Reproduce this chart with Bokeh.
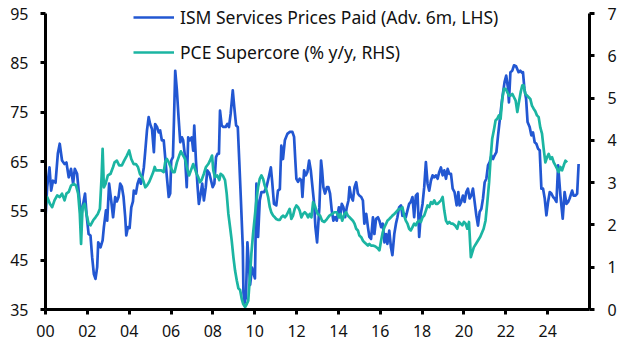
from bokeh.plotting import figure
from bokeh.models import Range1d, LinearAxis, FixedTicker, Legend, LegendItem
from bokeh.embed import file_html
from bokeh.resources import INLINE

# ---------------- data ----------------
ism_year = [2000.00, 2000.08, 2000.19, 2000.27, 2000.36, 2000.48, 2000.59, 2000.68, 2000.79, 2000.91,
            2001.00, 2001.11, 2001.22, 2001.32, 2001.40, 2001.51, 2001.59, 2001.70, 2001.80, 2001.89,
            2001.96, 2002.06, 2002.15, 2002.23, 2002.31, 2002.39, 2002.47, 2002.52, 2002.63, 2002.73,
            2002.79, 2002.89, 2002.95, 2003.04, 2003.14, 2003.23, 2003.33, 2003.41, 2003.49, 2003.57,
            2003.65, 2003.73, 2003.81, 2003.86, 2003.94, 2004.02, 2004.10, 2004.18, 2004.22, 2004.32,
            2004.40, 2004.48, 2004.56, 2004.64, 2004.70, 2004.77, 2004.85, 2004.93, 2005.00, 2005.09,
            2005.18, 2005.24, 2005.33, 2005.41, 2005.48, 2005.56, 2005.65, 2005.72, 2005.80, 2005.89,
            2005.96, 2006.01, 2006.09, 2006.14, 2006.20, 2006.28, 2006.36, 2006.44, 2006.52, 2006.58,
            2006.67, 2006.75, 2006.82, 2006.90, 2006.99, 2007.06, 2007.11, 2007.19, 2007.27, 2007.33,
            2007.42, 2007.49, 2007.57, 2007.66, 2007.73, 2007.83, 2007.91, 2007.99, 2008.07, 2008.15,
            2008.23, 2008.29, 2008.34, 2008.42, 2008.50, 2008.61, 2008.69, 2008.77, 2008.85, 2008.95,
            2009.02, 2009.11, 2009.19, 2009.26, 2009.34, 2009.43, 2009.46, 2009.51, 2009.58, 2009.65,
            2009.78, 2009.87, 2010.01, 2010.08, 2010.16, 2010.24, 2010.32, 2010.45, 2010.56, 2010.67,
            2010.77, 2010.83, 2010.92, 2011.03, 2011.11, 2011.20, 2011.27, 2011.35, 2011.44, 2011.56,
            2011.67, 2011.80, 2011.88, 2011.94, 2011.99, 2012.07, 2012.15, 2012.23, 2012.28, 2012.36,
            2012.44, 2012.52, 2012.60, 2012.68, 2012.76, 2012.84, 2012.90, 2012.98, 2013.09, 2013.17,
            2013.22, 2013.28, 2013.36, 2013.45, 2013.52, 2013.60, 2013.68, 2013.76, 2013.84, 2013.92,
            2014.02, 2014.08, 2014.16, 2014.24, 2014.32, 2014.40, 2014.48, 2014.53, 2014.61, 2014.69,
            2014.77, 2014.85, 2014.93, 2015.00, 2015.09, 2015.17, 2015.24, 2015.33, 2015.41, 2015.48,
            2015.56, 2015.65, 2015.72, 2015.80, 2015.89, 2015.96, 2016.04, 2016.12, 2016.20, 2016.28,
            2016.34, 2016.43, 2016.51, 2016.58, 2016.67, 2016.75, 2016.82, 2016.90, 2016.99, 2017.06,
            2017.14, 2017.22, 2017.30, 2017.38, 2017.46, 2017.54, 2017.62, 2017.70, 2017.78, 2017.86,
            2017.94, 2018.02, 2018.10, 2018.18, 2018.26, 2018.34, 2018.42, 2018.50, 2018.58, 2018.66,
            2018.74, 2018.82, 2018.90, 2018.98, 2019.06, 2019.14, 2019.22, 2019.30, 2019.38, 2019.46,
            2019.55, 2019.65, 2019.73, 2019.79, 2019.87, 2019.95, 2020.03, 2020.11, 2020.19, 2020.27,
            2020.35, 2020.43, 2020.51, 2020.59, 2020.67, 2020.75, 2020.83, 2020.91, 2020.99, 2021.07,
            2021.15, 2021.23, 2021.31, 2021.39, 2021.46, 2021.55, 2021.63, 2021.70, 2021.79, 2021.87,
            2021.94, 2022.02, 2022.10, 2022.15, 2022.22, 2022.31, 2022.39, 2022.49, 2022.55, 2022.61,
            2022.69, 2022.78, 2022.82, 2022.89, 2022.97, 2023.04, 2023.14, 2023.22, 2023.30, 2023.38,
            2023.46, 2023.54, 2023.62, 2023.70, 2023.78, 2023.86, 2023.94, 2024.02, 2024.10, 2024.18,
            2024.26, 2024.33, 2024.42, 2024.50, 2024.61, 2024.72, 2024.81, 2024.90, 2024.98, 2025.05,
            2025.17, 2025.24, 2025.33, 2025.41, 2025.48]
ism_value = [53.7, 59.8, 63.8, 59.1, 61.1, 60.7, 66.6, 68.6, 65.2, 64.5,
             64.8, 61.8, 63.5, 60.5, 63.5, 62.5, 58.8, 53.7, 56.4, 58.5,
             54.4, 50.3, 50.0, 45.6, 42.2, 41.2, 43.6, 48.6, 47.6, 49.0,
             51.7, 55.1, 53.0, 60.5, 57.1, 53.7, 57.8, 56.9, 57.8, 60.5,
             59.9, 57.8, 53.7, 50.0, 51.7, 51.5, 55.7, 56.9, 59.1, 58.5,
             60.5, 61.5, 60.5, 62.2, 63.8, 67.2, 71.3, 74.0, 72.6, 71.6,
             66.9, 72.6, 72.0, 70.9, 71.3, 69.3, 69.3, 65.9, 61.9, 57.8,
             58.5, 65.2, 65.9, 73.3, 83.4, 79.4, 73.9, 68.9, 69.9, 69.3,
             65.9, 59.8, 69.9, 69.3, 69.9, 67.2, 72.3, 65.2, 59.8, 56.4,
             58.5, 60.5, 57.1, 59.8, 63.2, 62.6, 61.2, 59.8, 60.5, 65.9,
             66.6, 66.6, 75.3, 72.3, 72.0, 72.0, 72.6, 72.0, 74.7, 79.4,
             76.1, 72.3, 72.0, 65.2, 57.1, 47.6, 38.5, 36.3, 37.5, 48.6,
             40.0, 43.5, 41.3, 60.5, 49.7, 57.1, 58.8, 58.8, 59.8, 61.8,
             63.8, 61.1, 56.4, 56.1, 59.1, 59.4, 68.2, 65.5, 69.3, 70.6,
             71.0, 71.0, 70.0, 65.2, 61.5, 60.9, 61.5, 61.2, 57.8, 63.2,
             62.2, 62.9, 65.2, 63.2, 59.8, 56.4, 51.7, 48.6, 55.7, 65.2,
             63.2, 59.8, 58.5, 59.8, 59.8, 58.5, 55.1, 53.0, 53.7, 53.0,
             55.7, 53.7, 56.4, 55.7, 53.7, 55.7, 57.1, 59.8, 57.8, 57.1,
             59.8, 60.8, 58.5, 58.1, 57.8, 57.1, 52.4, 54.4, 51.7, 49.7,
             49.3, 53.7, 50.3, 53.4, 53.7, 53.0, 51.7, 52.4, 48.6, 50.3,
             48.3, 51.0, 47.6, 46.0, 50.3, 52.4, 53.7, 55.7, 56.1, 54.0,
             54.4, 53.7, 55.1, 56.4, 56.8, 57.8, 53.7, 58.1, 58.5, 49.7,
             54.4, 56.4, 59.8, 64.9, 60.5, 59.1, 61.1, 62.2, 61.8, 62.2,
             61.5, 62.9, 63.8, 62.2, 63.2, 61.5, 63.5, 62.5, 62.5, 59.5,
             58.8, 56.1, 58.8, 56.1, 56.8, 58.1, 56.8, 58.8, 59.5, 57.5,
             58.1, 59.5, 56.8, 54.1, 52.0, 54.8, 55.4, 57.5, 60.8, 61.5,
             64.2, 64.9, 66.2, 65.5, 66.2, 66.9, 70.3, 73.0, 76.4, 79.0,
             81.1, 82.4, 80.0, 77.0, 83.1, 83.4, 84.5, 84.3, 83.7, 83.1,
             83.4, 83.0, 83.1, 79.7, 77.7, 73.0, 72.0, 70.3, 70.9, 68.9,
             68.6, 67.6, 67.3, 59.5, 59.5, 57.5, 54.1, 56.8, 58.8, 58.5,
             57.8, 57.5, 56.8, 64.2, 58.1, 53.4, 58.8, 56.4, 56.8, 57.5,
             59.1, 58.1, 58.1, 58.5, 64.5]

pce_year = [2000.00, 2000.08, 2000.21, 2000.32, 2000.43, 2000.56, 2000.68, 2000.79, 2000.91, 2001.00,
            2001.11, 2001.22, 2001.35, 2001.46, 2001.56, 2001.64, 2001.70, 2001.77, 2001.87, 2001.96,
            2002.06, 2002.15, 2002.28, 2002.39, 2002.50, 2002.60, 2002.68, 2002.73, 2002.79, 2002.87,
            2002.98, 2003.11, 2003.23, 2003.30, 2003.41, 2003.52, 2003.65, 2003.76, 2003.89, 2004.00,
            2004.10, 2004.21, 2004.32, 2004.42, 2004.51, 2004.61, 2004.69, 2004.77, 2004.85, 2004.96,
            2005.05, 2005.15, 2005.22, 2005.28, 2005.41, 2005.53, 2005.65, 2005.72, 2005.80, 2005.89,
            2005.98, 2006.08, 2006.17, 2006.28, 2006.39, 2006.47, 2006.58, 2006.67, 2006.75, 2006.86,
            2006.95, 2007.06, 2007.14, 2007.22, 2007.30, 2007.38, 2007.46, 2007.57, 2007.67, 2007.78,
            2007.86, 2007.96, 2008.02, 2008.10, 2008.21, 2008.31, 2008.37, 2008.47, 2008.58, 2008.66,
            2008.74, 2008.82, 2008.90, 2008.98, 2009.06, 2009.14, 2009.22, 2009.30, 2009.38, 2009.45,
            2009.54, 2009.62, 2009.69, 2009.76, 2009.84, 2009.92, 2010.00, 2010.08, 2010.16, 2010.24,
            2010.32, 2010.40, 2010.48, 2010.56, 2010.64, 2010.72, 2010.79, 2010.88, 2010.96, 2011.03,
            2011.11, 2011.20, 2011.27, 2011.35, 2011.44, 2011.51, 2011.59, 2011.67, 2011.75, 2011.83,
            2011.91, 2011.99, 2012.07, 2012.15, 2012.23, 2012.31, 2012.39, 2012.47, 2012.55, 2012.63,
            2012.71, 2012.79, 2012.87, 2012.95, 2013.01, 2013.12, 2013.22, 2013.33, 2013.45, 2013.57,
            2013.70, 2013.81, 2013.92, 2014.02, 2014.10, 2014.18, 2014.29, 2014.37, 2014.45, 2014.53,
            2014.61, 2014.69, 2014.77, 2014.85, 2014.93, 2015.00, 2015.09, 2015.17, 2015.24, 2015.33,
            2015.41, 2015.48, 2015.56, 2015.65, 2015.72, 2015.80, 2015.89, 2015.96, 2016.04, 2016.12,
            2016.20, 2016.28, 2016.34, 2016.43, 2016.51, 2016.58, 2016.67, 2016.75, 2016.82, 2016.90,
            2016.99, 2017.06, 2017.14, 2017.22, 2017.30, 2017.38, 2017.46, 2017.54, 2017.62, 2017.70,
            2017.78, 2017.86, 2017.94, 2018.02, 2018.10, 2018.18, 2018.26, 2018.34, 2018.42, 2018.50,
            2018.58, 2018.66, 2018.74, 2018.82, 2018.90, 2018.98, 2019.06, 2019.14, 2019.22, 2019.30,
            2019.38, 2019.46, 2019.57, 2019.68, 2019.76, 2019.84, 2019.92, 2020.00, 2020.08, 2020.16,
            2020.24, 2020.33, 2020.47, 2020.62, 2020.78, 2020.94, 2021.03, 2021.11, 2021.20, 2021.27,
            2021.35, 2021.44, 2021.51, 2021.59, 2021.67, 2021.75, 2021.83, 2021.91, 2021.99, 2022.07,
            2022.15, 2022.23, 2022.31, 2022.39, 2022.47, 2022.55, 2022.63, 2022.71, 2022.79, 2022.85,
            2022.93, 2023.01, 2023.09, 2023.17, 2023.25, 2023.33, 2023.41, 2023.49, 2023.57, 2023.65,
            2023.73, 2023.81, 2023.89, 2023.97, 2024.05, 2024.13, 2024.21, 2024.29, 2024.37, 2024.45,
            2024.53, 2024.61, 2024.69, 2024.77, 2024.85, 2024.93]
pce_value = [2.42, 2.66, 2.50, 2.42, 2.58, 2.70, 2.66, 2.74, 2.58, 2.74,
             2.78, 2.93, 2.97, 2.93, 2.74, 2.26, 1.55, 2.42, 2.50, 2.26,
             2.03, 1.99, 2.11, 2.18, 2.26, 2.38, 3.13, 3.80, 2.89, 2.97,
             3.17, 3.21, 3.37, 3.48, 3.52, 3.41, 3.41, 3.52, 3.64, 3.76,
             3.56, 3.44, 3.44, 3.37, 3.21, 3.13, 3.02, 2.89, 2.93, 3.02,
             3.13, 3.25, 3.37, 3.29, 3.29, 3.29, 3.25, 3.48, 3.56, 3.48,
             3.37, 3.25, 3.25, 3.48, 3.64, 3.74, 3.64, 3.56, 3.37, 3.17,
             3.29, 3.44, 3.33, 3.21, 3.13, 3.01, 3.06, 3.21, 3.37, 3.44,
             3.52, 3.64, 3.29, 3.13, 3.17, 3.06, 3.21, 3.17, 3.06, 2.74,
             2.26, 1.95, 1.63, 1.24, 0.92, 0.69, 0.50, 0.46, 0.25, 0.13,
             0.06, 0.13, 0.21, 0.70, 1.32, 1.79, 2.18, 2.58, 2.89, 3.09,
             3.17, 3.09, 2.93, 2.82, 2.66, 2.42, 2.30, 2.22, 2.18, 2.14,
             2.12, 2.12, 2.18, 2.22, 2.18, 2.22, 2.30, 2.38, 2.14, 2.22,
             2.38, 2.46, 2.42, 2.34, 2.18, 2.26, 2.30, 2.26, 2.18, 2.26,
             2.18, 2.54, 2.46, 2.34, 2.26, 2.22, 2.10, 2.07, 2.14, 2.22,
             2.26, 2.30, 2.30, 2.18, 2.26, 2.10, 2.26, 2.30, 2.22, 2.18,
             2.14, 2.10, 2.03, 1.91, 1.87, 1.75, 1.71, 1.63, 1.59, 1.55,
             1.51, 1.55, 1.51, 1.51, 1.50, 1.48, 1.44, 1.40, 1.63, 1.83,
             1.95, 2.03, 2.10, 2.14, 2.18, 2.22, 2.26, 2.30, 2.34, 2.38,
             2.38, 2.42, 2.22, 2.10, 2.03, 1.91, 1.87, 1.95, 2.03, 1.99,
             2.07, 2.10, 2.07, 2.18, 2.22, 2.34, 2.46, 2.42, 2.54, 2.50,
             2.58, 2.50, 2.50, 2.54, 2.58, 2.66, 2.34, 2.10, 2.03, 2.07,
             2.03, 2.03, 1.99, 1.91, 2.07, 2.03, 1.99, 2.07, 2.03, 1.91,
             2.07, 1.24, 1.47, 1.59, 1.72, 1.91, 2.10, 2.50, 3.00, 3.55,
             4.04, 4.27, 4.47, 4.51, 4.59, 4.51, 4.98, 5.22, 5.22, 5.14,
             5.06, 5.06, 5.10, 5.02, 4.94, 4.67, 4.91, 5.14, 5.30, 5.30,
             5.10, 5.06, 5.02, 4.98, 4.82, 4.75, 4.69, 4.59, 4.55, 4.30,
             4.16, 3.80, 3.48, 3.60, 3.68, 3.56, 3.60, 3.48, 3.41, 3.33,
             3.25, 3.37, 3.29, 3.41, 3.52, 3.48]

series_names = ["ISM Services Prices Paid (Adv. 6m, LHS)", "PCE Supercore (% y/y, RHS)"]
x_tick_years = [2000, 2002, 2004, 2006, 2008, 2010, 2012, 2014, 2016, 2018, 2020, 2022, 2024]
x_tick_labels = ["00", "02", "04", "06", "08", "10", "12", "14", "16", "18", "20", "22", "24"]
lhs_ticks = [35, 45, 55, 65, 75, 85, 95]
rhs_ticks = [0, 1, 2, 3, 4, 5, 6, 7]

# ---------------- styling ----------------
BLUE = "#2257D2"
TEAL = "#1BB5A2"
FONT = "Noto Sans"
FS = "16px"
LEG_FS = "17.5px"
EXTRA_TOP_PX = 10          # head-room above the axis tops so the legend text is not clipped
FRAME_H = 296 + EXTRA_TOP_PX
lhs_lo, lhs_hi = lhs_ticks[0], lhs_ticks[-1]
rhs_lo, rhs_hi = rhs_ticks[0], rhs_ticks[-1]
lhs_top = lhs_hi + EXTRA_TOP_PX * (lhs_hi - lhs_lo) / 296
rhs_top = rhs_hi + EXTRA_TOP_PX * (rhs_hi - rhs_lo) / 296

p = figure(output_backend="svg", toolbar_location=None,
           frame_width=544, frame_height=FRAME_H,
           min_border_left=45, min_border_right=40, min_border_top=13 - EXTRA_TOP_PX,
           min_border_bottom=46,
           x_range=Range1d(2000, 2026), y_range=Range1d(lhs_lo, lhs_top),
           background_fill_color="white", border_fill_color="white")
p.outline_line_color = None
p.grid.visible = False
p.extra_y_ranges = {"rhs": Range1d(rhs_lo, rhs_top)}

def style_axis(ax):
    ax.axis_line_color = "black"
    ax.axis_line_width = 3
    ax.major_tick_line_color = "black"
    ax.major_tick_line_width = 3
    ax.major_tick_out = 5
    ax.major_tick_in = 0
    ax.minor_tick_line_color = None
    ax.major_label_text_font = FONT
    ax.major_label_text_font_size = FS
    ax.major_label_text_color = "#111111"

xa = p.xaxis[0]
style_axis(xa)
xa.ticker = FixedTicker(ticks=x_tick_years)
xa.major_label_overrides = {y: l for y, l in zip(x_tick_years, x_tick_labels)}
xa.major_label_standoff = 10

ya = p.yaxis[0]
style_axis(ya)
ya.ticker = FixedTicker(ticks=lhs_ticks)
ya.bounds = (lhs_lo, lhs_hi)
ya.major_label_standoff = 12

ra = LinearAxis(y_range_name="rhs")
style_axis(ra)
ra.ticker = FixedTicker(ticks=rhs_ticks)
ra.bounds = (rhs_lo, rhs_hi)
ra.major_label_standoff = 13
p.add_layout(ra, "right")

r1 = p.line(ism_year, ism_value, line_color=BLUE, line_width=2.7, line_join="round")
r2 = p.line(pce_year, pce_value, line_color=TEAL, line_width=2.7, line_join="round",
            y_range_name="rhs")

legend = Legend(items=[LegendItem(label=series_names[0], renderers=[r1]),
                       LegendItem(label=series_names[1], renderers=[r2])],
                location=(88, 245), orientation="vertical",
                padding=0, margin=0, spacing=11,
                glyph_width=41, glyph_height=20, label_height=20, label_standoff=6,
                label_text_font=FONT, label_text_font_size=LEG_FS, label_text_color="#111111",
                background_fill_alpha=0, border_line_color=None)
p.add_layout(legend, "center")

open("out.html", "w").write(file_html(p, INLINE))
